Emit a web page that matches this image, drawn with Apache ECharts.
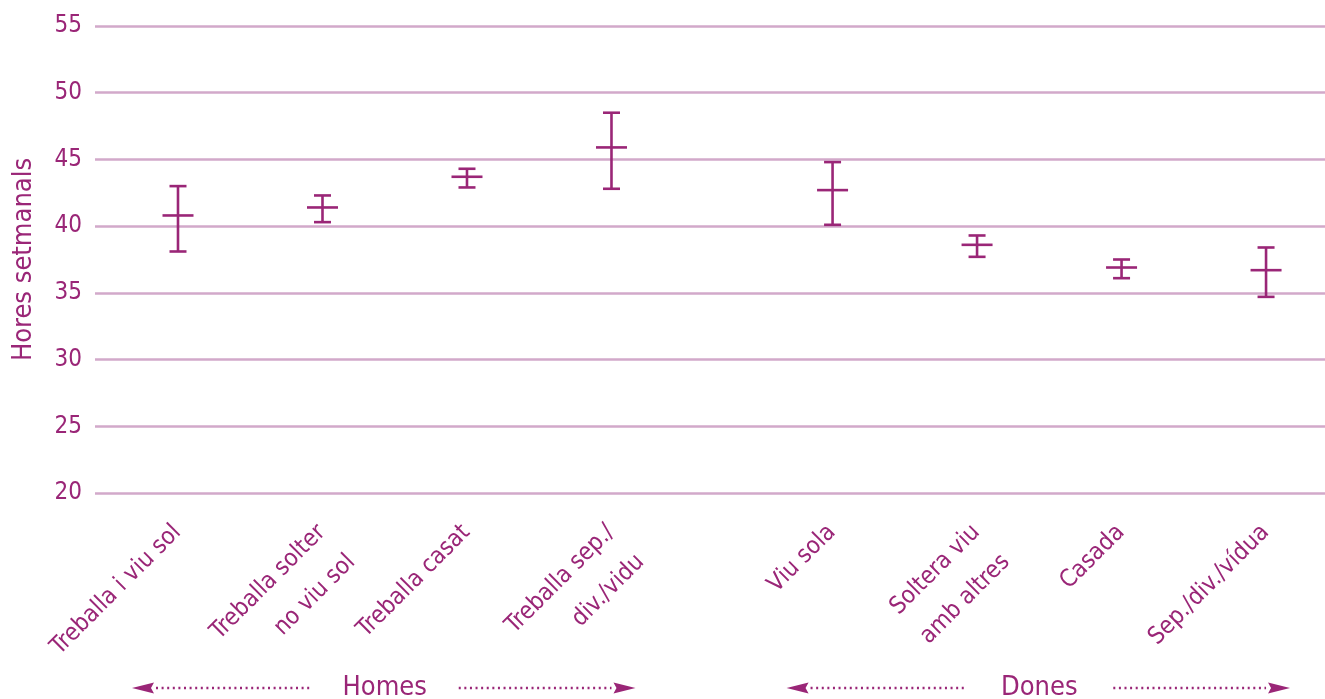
<!DOCTYPE html>
<html>
<head>
<meta charset="utf-8">
<script src="https://cdn.jsdelivr.net/npm/echarts@6/dist/echarts.min.js"></script>
<style>
html,body{margin:0;padding:0;background:#fff;}
#chart{width:1325px;height:699px;}
</style>
</head>
<body>
<div id="chart"></div>
<script>
// ---- data ----
var categories = ['Treballa i viu sol', 'Treballa solter\nno viu sol', 'Treballa casat', 'Treballa sep./\ndiv./vidu',
                  'Viu sola', 'Soltera viu\namb altres', 'Casada', 'Sep./div./vídua'];
var groups = ['Homes', 'Homes', 'Homes', 'Homes', 'Dones', 'Dones', 'Dones', 'Dones'];
var groupNames = ['Homes', 'Dones'];
var meanValues = [40.8, 41.4, 43.7, 45.9, 42.7, 38.6, 36.9, 36.7];
var lowValues  = [38.1, 40.3, 42.9, 42.8, 40.1, 37.7, 36.1, 34.7];
var highValues = [43.0, 42.3, 44.3, 48.5, 44.8, 39.3, 37.5, 38.4];
var yTicks = [20, 25, 30, 35, 40, 45, 50, 55];
var yTitle = 'Hores setmanals';

// ---- layout helpers ----
var COLOR = '#9a2677';
var GRID_COLOR = '#d2a9ca';
var FONT = "'Liberation Sans Narrow', 'DejaVu Sans Condensed', 'Roboto', sans-serif";
var GROUP_GAP = 0.53;

var xPos = [];
var gi = 0;
categories.forEach(function (c, i) {
  if (i > 0 && groups[i] !== groups[i - 1]) gi++;
  xPos.push(i + 1 + gi * GROUP_GAP);
});
var data = categories.map(function (c, i) {
  return [xPos[i], lowValues[i], meanValues[i], highValues[i], i];
});
var labelByPos = {};
xPos.forEach(function (p, i) { labelByPos[p.toFixed(3)] = categories[i]; });

var chart = echarts.init(document.getElementById('chart'), null, {renderer: 'canvas'});

var option = {
  backgroundColor: '#ffffff',
  animation: false,
  grid: {left: 95, right: 0, top: 26, bottom: 206},
  xAxis: {
    type: 'value',
    min: 0.4256,
    max: 8.938,
    axisLine: {show: false},
    axisTick: {show: false},
    splitLine: {show: false},
    axisLabel: {
      customValues: xPos,
      rotate: 45,
      margin: 28,
      color: COLOR,
      fontFamily: FONT,
      fontSize: 24,
      lineHeight: 42,
      verticalAlign: 'top',
      padding: [-16, 6, 0, 0],
      formatter: function (v) { return labelByPos[Number(v).toFixed(3)] || ''; }
    }
  },
  yAxis: {
    type: 'value',
    min: yTicks[0],
    max: yTicks[yTicks.length - 1],
    interval: 5,
    name: yTitle,
    nameLocation: 'middle',
    nameGap: 58,
    nameTextStyle: {color: COLOR, fontFamily: FONT, fontSize: 27},
    axisLine: {show: false},
    axisTick: {show: false},
    axisLabel: {color: COLOR, fontFamily: FONT, fontSize: 24, margin: 13},
    splitLine: {lineStyle: {color: GRID_COLOR, width: 2.5}}
  },
  series: [{
    type: 'custom',
    clip: false,
    data: data,
    renderItem: function (params, api) {
      var x = api.value(0);
      var lo = api.coord([x, api.value(1)]);
      var me = api.coord([x, api.value(2)]);
      var hi = api.coord([x, api.value(3)]);
      var cap = 8.5, mw = 15.5;
      var st = {stroke: COLOR, lineWidth: 2.6};
      return {
        type: 'group',
        children: [
          {type: 'line', shape: {x1: hi[0], y1: hi[1], x2: lo[0], y2: lo[1]}, style: st},
          {type: 'line', shape: {x1: hi[0] - cap, y1: hi[1], x2: hi[0] + cap, y2: hi[1]}, style: st},
          {type: 'line', shape: {x1: lo[0] - cap, y1: lo[1], x2: lo[0] + cap, y2: lo[1]}, style: st},
          {type: 'line', shape: {x1: me[0] - mw, y1: me[1], x2: me[0] + mw, y2: me[1]}, style: st}
        ]
      };
    }
  }]
};
chart.setOption(option);

// ---- group annotations (Homes / Dones) with dotted arrows ----
var graphics = [];
var ARROW_Y = 688;
groupNames.forEach(function (g) {
  var idx = [];
  groups.forEach(function (gg, i) { if (gg === g) idx.push(i); });
  var first = chart.convertToPixel({xAxisIndex: 0}, xPos[idx[0]]);
  var last = chart.convertToPixel({xAxisIndex: 0}, xPos[idx[idx.length - 1]]);
  var left = first - 46, right = last + 24;
  var center = (left + right) / 2 + 1;
  var halfText = 41, gapT = 33, head = 22, headH = 5.5;
  var dash = {stroke: COLOR, lineWidth: 2.4, lineDash: [2, 3.6]};
  graphics.push({type: 'polygon', shape: {points: [[left, ARROW_Y], [left + head, ARROW_Y - headH], [left + head - 3, ARROW_Y], [left + head, ARROW_Y + headH]]}, style: {fill: COLOR}});
  graphics.push({type: 'line', shape: {x1: left + head + 2, y1: ARROW_Y, x2: center - halfText - gapT, y2: ARROW_Y}, style: dash});
  graphics.push({type: 'line', shape: {x1: center + halfText + gapT, y1: ARROW_Y, x2: right - head - 2, y2: ARROW_Y}, style: dash});
  graphics.push({type: 'polygon', shape: {points: [[right, ARROW_Y], [right - head, ARROW_Y - headH], [right - head + 3, ARROW_Y], [right - head, ARROW_Y + headH]]}, style: {fill: COLOR}});
  graphics.push({type: 'text', x: center, y: ARROW_Y, style: {text: g, fill: COLOR, font: '27px ' + FONT, textAlign: 'center', textVerticalAlign: 'middle'}});
});
chart.setOption({graphic: graphics});
</script>
</body>
</html>
